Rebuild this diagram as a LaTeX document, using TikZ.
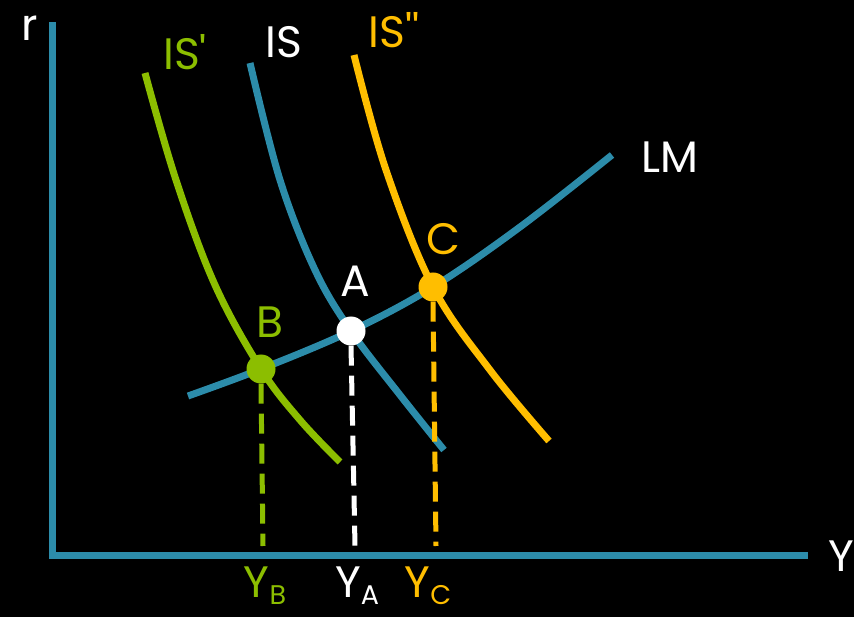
\documentclass[tikz,border=0pt]{standalone}
\usepackage{fontspec}
\setmainfont{Poppins}
\begin{document}
\begin{tikzpicture}[x=1pt,y=-1pt,
  lbl/.style={inner sep=0pt,font=\fontsize{44}{46}\selectfont},
  curve/.style={line width=7pt},
  dot/.style={circle,inner sep=0pt,minimum size=29pt},
  drop/.style={line width=5pt,dash pattern=on 20pt off 10pt}]
\definecolor{axblue}{RGB}{44,140,170}
\definecolor{isgreen}{RGB}{140,190,0}
\definecolor{isorange}{RGB}{255,190,0}
\fill[black] (0,0) rectangle (854,617);
\useasboundingbox (0,0) rectangle (854,617);
% axes
\coordinate (top) at (52,22);
\coordinate (orig) at (52,555);
\coordinate (right) at (808,555);
\draw[axblue,line width=7pt] (top) -- (orig) -- (right);
\node[lbl,white] (r) at (30,28) {r};
\node[lbl,white] (Y) at (841,556) {Y};
% curves
\draw[curve,isgreen] plot[smooth,tension=0.6] coordinates {(145,73) (176,180) (215,285) (261,369) (300,420) (340,462)};
\draw[curve,axblue] plot[smooth,tension=0.6] coordinates {(250,63) (280,180) (315,270) (351,331) (400,395) (444,450)};
\draw[curve,isorange] plot[smooth,tension=0.6] coordinates {(354,55) (386,170) (433,287) (490,370) (549,441)};
\draw[curve,axblue] plot[smooth,tension=0.6] coordinates {(188,396) (261,369) (351,331) (433,287) (520,227) (612,155)};
% points
\node[dot,fill=isgreen] (B) at (261,369) {};
\node[dot,fill=white] (A) at (351,331) {};
\node[dot,fill=isorange] (C) at (433,287) {};
\coordinate (yb) at (263,546);
\coordinate (ya) at (355,546);
\coordinate (yc) at (436,546);
\draw[drop,isgreen] (B.south) -- (yb);
\draw[drop,white] (A.south) -- (ya);
\draw[drop,isorange] (C.south) -- (yc);
% labels
\node[lbl,isgreen] (lB) at (270,322) {B};
\node[lbl,white] (lA) at (355,281) {A};
\node[lbl,isorange] (lC) at (443,239) {C};
\node[lbl,isgreen] (lISp) at (185,52) {IS\textquotesingle};
\node[lbl,white] (lIS) at (284,42) {IS};
\node[lbl,isorange] (lISpp) at (394,30) {IS\textquotesingle\textquotesingle};
\node[lbl,white] (lLM) at (670,157) {LM};
\node[lbl,isgreen,anchor=base] (lYB) at (265,597) {Y\raisebox{-7pt}{\fontsize{27}{27}\selectfont B}};
\node[lbl,white,anchor=base] (lYA) at (357,597) {Y\raisebox{-7pt}{\fontsize{27}{27}\selectfont A}};
\node[lbl,isorange,anchor=base] (lYC) at (428,597) {Y\raisebox{-7pt}{\fontsize{27}{27}\selectfont C}};
\end{tikzpicture}
\end{document}
